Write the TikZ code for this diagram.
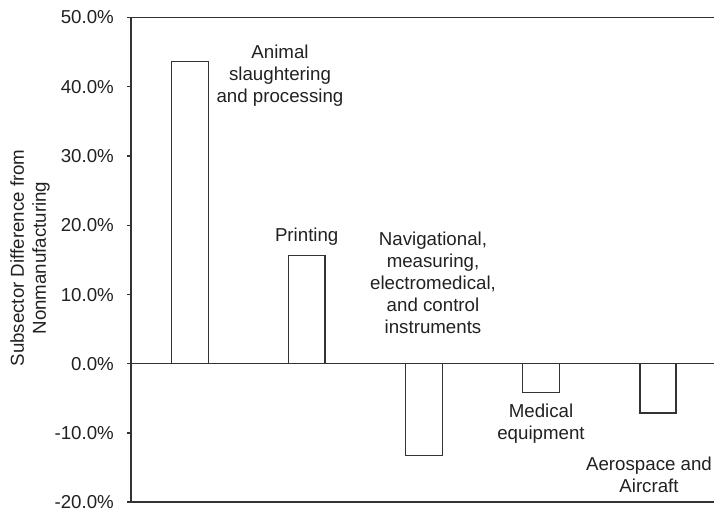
\documentclass[tikz,border=0pt]{standalone}
\usepackage{fontspec}
\setmainfont{Liberation Sans}
\begin{document}
\begin{tikzpicture}[x=1pt,y=-1pt,
  axisline/.style={draw=black!80,line width=1.3pt},
  barbox/.style={draw=black!80,line width=1.3pt,fill=white},
  lbl/.style={inner sep=0pt,align=center,text=black!87,font=\fontsize{18.7}{22}\selectfont},
  ticklbl/.style={inner sep=0pt,anchor=east,text=black!87,font=\fontsize{18.7}{22}\selectfont}]
\useasboundingbox (0,0) rectangle (714,511);
% axes
\draw[axisline] (131,17.5) -- (131,502);
\draw[axisline] (127,17.5) -- (714,17.5);
\draw[axisline] (127,502) -- (714,502);
\foreach \yy in {86.8,156.1,225.4,294.7,433}{
  \draw[axisline] (127,\yy) -- (131,\yy);
}
% bars
\draw[barbox] (171.7,363.7) rectangle (208.3,61.7);
\draw[barbox] (288.7,363.7) rectangle (325,255.7);
\draw[barbox] (405.7,363.7) rectangle (442.3,455.7);
\draw[barbox] (522.7,363.7) rectangle (559.3,392.7);
\draw[barbox] (640,363.7) rectangle (676,413);
\draw[axisline] (127,363.7) -- (714,363.7);
% tick labels
\node[ticklbl] (t50) at (114,17.5) {50.0\%};
\node[ticklbl] (t40) at (114,86.8) {40.0\%};
\node[ticklbl] (t30) at (114,156.1) {30.0\%};
\node[ticklbl] (t20) at (114,225.4) {20.0\%};
\node[ticklbl] (t10) at (114,294.7) {10.0\%};
\node[ticklbl] (t0) at (114,363.7) {0.0\%};
\node[ticklbl] (tm10) at (114,433) {-10.0\%};
\node[ticklbl] (tm20) at (114,502.3) {-20.0\%};
% axis title
\node[lbl,rotate=90] (ytitle) at (30,258) {Subsector Difference from\\Nonmanufacturing};
% bar labels
\node[lbl] (animal) at (280,75.5) {Animal\\slaughtering\\and processing};
\node[lbl] (printing) at (306.7,237) {Printing};
\node[lbl] (nav) at (433,282.5) {Navigational,\\measuring,\\electromedical,\\and control\\instruments};
\node[lbl] (medical) at (541,423.7) {Medical\\equipment};
\node[lbl] (aero) at (649,475) {Aerospace and\\Aircraft};
\end{tikzpicture}
\end{document}
